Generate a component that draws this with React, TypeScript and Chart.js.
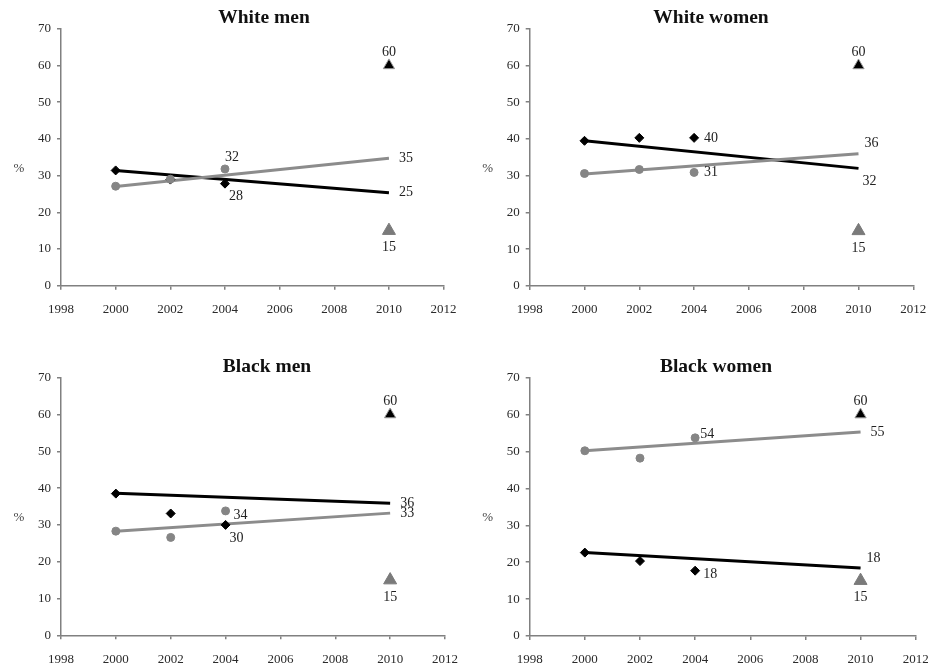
import React, { useEffect, useRef } from "react";
import { Chart, registerables } from "chart.js";

Chart.register(...registerables);

// ---------- data ----------
const surveyYears = [2000, 2002, 2004];
const trendYears = [2000, 2010];
const targetYear = 2010;
const targets = [60, 15];
const xTickValues = [1998, 2000, 2002, 2004, 2006, 2008, 2010, 2012];
const yTickValues = [0, 10, 20, 30, 40, 50, 60, 70];

const wmBlack = [31.4, 28.9, 27.8];
const wmGray = [27.1, 29.0, 31.8];
const wmBlackTrend = [31.4, 25.3];
const wmGrayTrend = [27.0, 34.7];

const wwBlack = [39.5, 40.3, 40.3];
const wwGray = [30.6, 31.7, 30.9];
const wwBlackTrend = [39.5, 32.0];
const wwGrayTrend = [30.5, 36.0];

const bmBlack = [38.5, 33.1, 30.0];
const bmGray = [28.3, 26.6, 33.8];
const bmBlackTrend = [38.6, 35.9];
const bmGrayTrend = [28.3, 33.2];

const bwBlack = [22.6, 20.3, 17.7];
const bwGray = [50.2, 48.2, 53.7];
const bwBlackTrend = [22.6, 18.4];
const bwGrayTrend = [50.2, 55.3];

const wmLabels = [
  { text: "32", x: 2004, y: wmGray[2], pos: "NNE" },
  { text: "28", x: 2004, y: wmBlack[2], pos: "SE" },
  { text: "35", x: 2010, y: wmGrayTrend[1], pos: "E" },
  { text: "25", x: 2010, y: wmBlackTrend[1], pos: "E" },
  { text: "60", x: targetYear, y: targets[0], pos: "N" },
  { text: "15", x: targetYear, y: targets[1], pos: "S" },
];
const wwLabels = [
  { text: "40", x: 2004, y: wwBlack[2], pos: "E" },
  { text: "31", x: 2004, y: wwGray[2], pos: "E" },
  { text: "36", x: 2010, y: wwGrayTrend[1], pos: "NE" },
  { text: "32", x: 2010, y: wwBlackTrend[1], pos: "SE" },
  { text: "60", x: targetYear, y: targets[0], pos: "N" },
  { text: "15", x: targetYear, y: targets[1], pos: "S" },
];
const bmLabels = [
  { text: "34", x: 2004, y: bmGray[2], pos: "ESE" },
  { text: "30", x: 2004, y: bmBlack[2], pos: "SE" },
  { text: "36", x: 2010, y: bmBlackTrend[1], pos: "E" },
  { text: "33", x: 2010, y: bmGrayTrend[1], pos: "E" },
  { text: "60", x: targetYear, y: targets[0], pos: "N" },
  { text: "15", x: targetYear, y: targets[1], pos: "S" },
];
const bwLabels = [
  { text: "54", x: 2004, y: bwGray[2], pos: "ENE" },
  { text: "18", x: 2004, y: bwBlack[2], pos: "ESE" },
  { text: "55", x: 2010, y: bwGrayTrend[1], pos: "E" },
  { text: "18", x: 2010, y: bwBlackTrend[1], pos: "NE" },
  { text: "60", x: targetYear, y: targets[0], pos: "N" },
  { text: "15", x: targetYear, y: targets[1], pos: "S" },
];

// ---------- layout / style ----------
const OFFSETS: Record<string, [number, number]> = {
  E: [17, 0],
  N: [0, -13],
  S: [0, 17],
  NE: [13, -10],
  SE: [11, 13],
  NNE: [7, -12],
  ENE: [12, -4],
  ESE: [15, 4],
};
const PERCENT_AT = 32;
const Y_W = 50;
const X_H = 28;
const SERIF = '"Liberation Serif", "DejaVu Serif", serif';
const AXIS = "#808080";
const TICK_TEXT = "#2a2a2a";
const GRAY = "#858585";

const panels = [
  {
    title: "White men", black: wmBlack, gray: wmGray, blackTrend: wmBlackTrend, grayTrend: wmGrayTrend, labels: wmLabels,
    box: { left: 0, top: 0, width: 464, height: 330 },
    area: { left: 61, right: 443.6, top: 28.7, bottom: 285.7 },
    titleX: 264, titleY: 23,
  },
  {
    title: "White women", black: wwBlack, gray: wwGray, blackTrend: wwBlackTrend, grayTrend: wwGrayTrend, labels: wwLabels,
    box: { left: 464, top: 0, width: 464, height: 330 },
    area: { left: 65.7, right: 449.3, top: 28.7, bottom: 286 },
    titleX: 247, titleY: 23,
  },
  {
    title: "Black men", black: bmBlack, gray: bmGray, blackTrend: bmBlackTrend, grayTrend: bmGrayTrend, labels: bmLabels,
    box: { left: 0, top: 330, width: 464, height: 335 },
    area: { left: 61, right: 445, top: 47.7, bottom: 305.3 },
    titleX: 267, titleY: 42,
  },
  {
    title: "Black women", black: bwBlack, gray: bwGray, blackTrend: bwBlackTrend, grayTrend: bwGrayTrend, labels: bwLabels,
    box: { left: 464, top: 330, width: 464, height: 335 },
    area: { left: 65.7, right: 451.7, top: 47.7, bottom: 306 },
    titleX: 252, titleY: 42,
  },
];

type Panel = typeof panels[number];

function Panel({ p }: { p: Panel }) {
  const ref = useRef<HTMLCanvasElement | null>(null);
  useEffect(() => {
    if (!ref.current) return;
    const annotate = {
      id: "annotate",
      afterDatasetsDraw(chart: any) {
        const { ctx, chartArea } = chart;
        const xs = chart.scales.x;
        const ys = chart.scales.y;
        ctx.save();
        ctx.fillStyle = "#111";
        ctx.textAlign = "center";
        ctx.textBaseline = "alphabetic";
        ctx.font = `bold 19.5px ${SERIF}`;
        ctx.fillText(p.title, p.titleX, p.titleY);
        ctx.textBaseline = "middle";
        ctx.fillStyle = "#444";
        ctx.font = `13px ${SERIF}`;
        ctx.fillText("%", chartArea.left - 42, ys.getPixelForValue(PERCENT_AT));
        ctx.fillStyle = "#222";
        ctx.font = `14px ${SERIF}`;
        for (const l of p.labels) {
          const [dx, dy] = OFFSETS[l.pos];
          ctx.fillText(l.text, xs.getPixelForValue(l.x) + dx, ys.getPixelForValue(l.y) + dy);
        }
        ctx.restore();
      },
    };
    const tickFont = { family: SERIF, size: 13 };
    const chart = new Chart(ref.current, {
      type: "line",
      data: {
        datasets: [
          {
            data: surveyYears.map((x, i) => ({ x, y: p.gray[i] })),
            showLine: false, pointStyle: "circle", pointRadius: 4, pointBorderWidth: 1,
            pointBackgroundColor: GRAY, pointBorderColor: GRAY, borderColor: GRAY,
          },
          {
            data: surveyYears.map((x, i) => ({ x, y: p.black[i] })),
            showLine: false, pointStyle: "rectRot", pointRadius: 4.5, pointBorderWidth: 1,
            pointBackgroundColor: "#000", pointBorderColor: "#000", borderColor: "#000",
          },
          {
            data: targets.map((y) => ({ x: targetYear, y })),
            showLine: false, pointStyle: "triangle", pointRadius: [6.5, 7.5], pointBorderWidth: 1,
            pointBackgroundColor: ["#000", "#7a7a7a"], pointBorderColor: ["#999", "#7a7a7a"], borderColor: "#000",
          },
          {
            data: trendYears.map((x, i) => ({ x, y: p.grayTrend[i] })),
            borderColor: "#8c8c8c", borderWidth: 3, pointRadius: 0, tension: 0, fill: false,
          },
          {
            data: trendYears.map((x, i) => ({ x, y: p.blackTrend[i] })),
            borderColor: "#000", borderWidth: 3, pointRadius: 0, tension: 0, fill: false,
          },
        ] as any,
      },
      options: {
        responsive: false,
        animation: false,
        events: [],
        layout: {
          padding: {
            left: p.area.left - Y_W,
            right: p.box.width - p.area.right,
            top: p.area.top,
            bottom: p.box.height - p.area.bottom - X_H,
          },
        },
        plugins: { legend: { display: false }, tooltip: { enabled: false }, title: { display: false } },
        scales: {
          x: {
            type: "linear", min: 1998, max: 2012,
            afterBuildTicks: (s: any) => { s.ticks = xTickValues.map((v) => ({ value: v })); },
            afterFit: (s: any) => { s.height = X_H; s.paddingLeft = 0; s.paddingRight = 0; },
            ticks: { font: tickFont, color: TICK_TEXT, padding: 12, maxRotation: 0, autoSkip: false, callback: (v: any) => String(v) },
            grid: { display: true, drawOnChartArea: false, drawTicks: true, tickLength: 4, color: AXIS, lineWidth: 1.5 },
            border: { display: true, color: AXIS, width: 1.5 },
          },
          y: {
            type: "linear", min: 0, max: 70,
            afterBuildTicks: (s: any) => { s.ticks = yTickValues.map((v) => ({ value: v })); },
            afterFit: (s: any) => { s.width = Y_W; s.paddingTop = 0; s.paddingBottom = 0; },
            ticks: { font: tickFont, color: TICK_TEXT, padding: 6, autoSkip: false, callback: (v: any) => String(v) },
            grid: { display: true, drawOnChartArea: false, drawTicks: true, tickLength: 4, color: AXIS, lineWidth: 1.5 },
            border: { display: true, color: AXIS, width: 1.5 },
          },
        },
      } as any,
      plugins: [annotate],
    });
    return () => chart.destroy();
  }, [p]);
  return (
    <canvas
      ref={ref}
      width={p.box.width}
      height={p.box.height}
      style={{ position: "absolute", left: p.box.left, top: p.box.top, width: p.box.width, height: p.box.height, display: "block" }}
    />
  );
}

export default function App() {
  return (
    <div style={{ position: "absolute", left: 0, top: 0, width: 928, height: 665, background: "#fff" }}>
      {panels.map((p) => (
        <Panel key={p.title} p={p} />
      ))}
    </div>
  );
}
